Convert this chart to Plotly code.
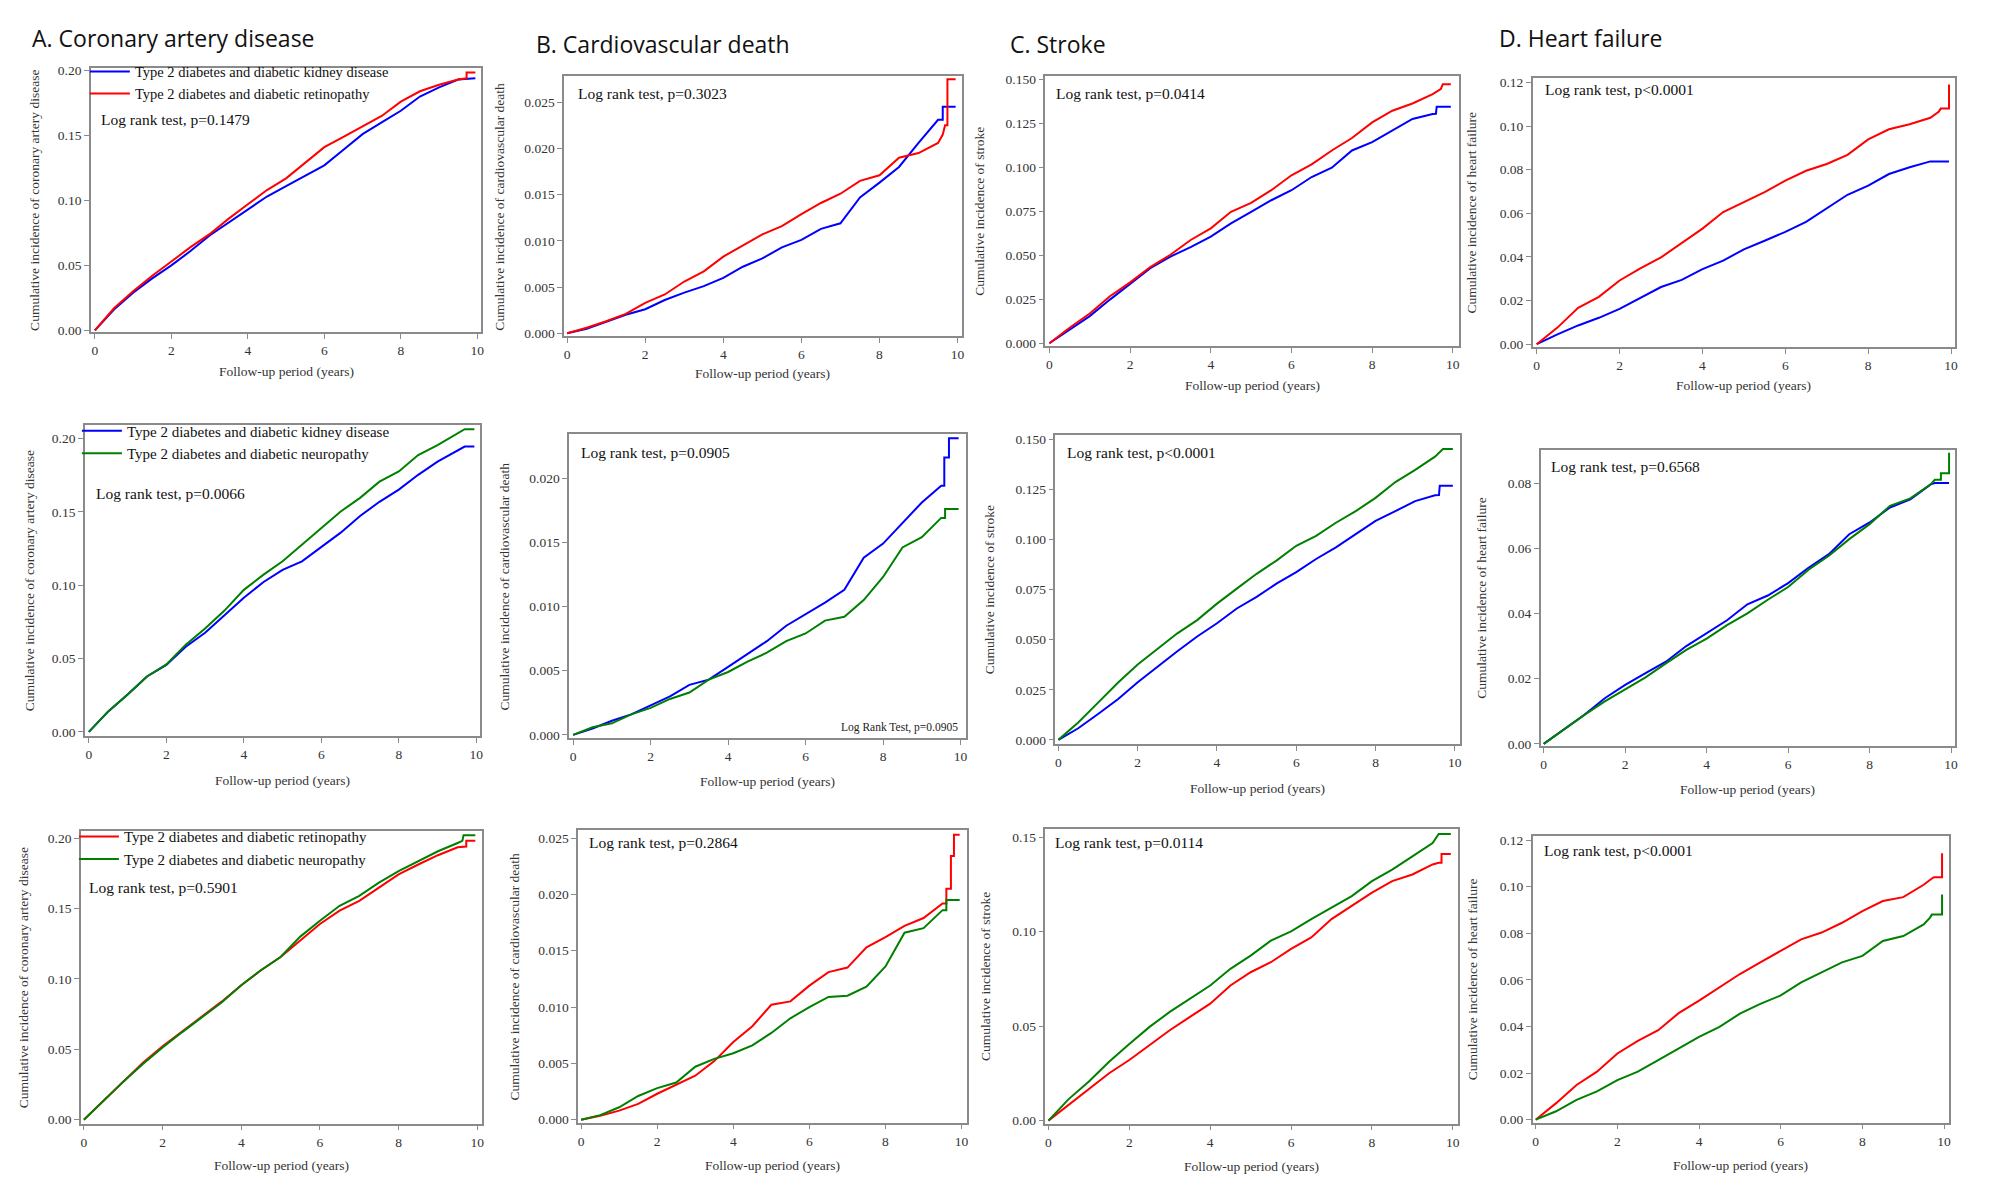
import plotly.graph_objects as go

W, H = 2008, 1197

# ---------------- data ----------------
YEARS = [0, 0.5, 1, 1.5, 2, 2.5, 3, 3.5, 4, 4.5, 5, 5.5, 6, 6.5, 7, 7.5, 8, 8.5, 9, 9.5]

KIDNEY = "Type 2 diabetes and diabetic kidney disease"
RETINO = "Type 2 diabetes and diabetic retinopathy"
NEURO = "Type 2 diabetes and diabetic neuropathy"

PANEL_TITLES = ["A. Coronary artery disease", "B. Cardiovascular death", "C. Stroke", "D. Heart failure"]
Y_TITLES = ["Cumulative incidence of coronary artery disease",
            "Cumulative incidence of cardiovascular death",
            "Cumulative incidence of stroke",
            "Cumulative incidence of heart failure"]
X_TITLE = "Follow-up period (years)"
P_TEXTS = ["Log rank test, p=0.1479", "Log rank test, p=0.3023", "Log rank test, p=0.0414", "Log rank test, p<0.0001",
           "Log rank test, p=0.0066", "Log rank test, p=0.0905", "Log rank test, p<0.0001", "Log rank test, p=0.6568",
           "Log rank test, p=0.5901", "Log rank test, p=0.2864", "Log rank test, p=0.0114", "Log rank test, p<0.0001"]

# Row 1: kidney (blue) vs retinopathy (red)
A1_KID = [0, 0.016, 0.029, 0.040, 0.050, 0.061, 0.073, 0.083, 0.093, 0.103, 0.111, 0.119, 0.127, 0.139, 0.151, 0.160, 0.169, 0.180, 0.187, 0.193]
A1_KID_TX, A1_KID_TY = [9.95], [0.194]
A1_RET = [0, 0.017, 0.030, 0.042, 0.053, 0.064, 0.074, 0.086, 0.097, 0.108, 0.117, 0.129, 0.141, 0.149, 0.157, 0.165, 0.176, 0.184, 0.189, 0.193]
A1_RET_TX, A1_RET_TY = [9.72, 9.72, 9.95], [0.194, 0.1985, 0.1985]

B1_KID = [0, 0.0005, 0.00125, 0.002, 0.0026, 0.0036, 0.0044, 0.0051, 0.006, 0.0072, 0.0081, 0.0093, 0.0101, 0.0113, 0.0119, 0.0147, 0.0163, 0.018, 0.0206, 0.0231]
B1_KID_TX, B1_KID_TY = [9.62, 9.62, 9.95], [0.0231, 0.0245, 0.0245]
B1_RET = [0, 0.0006, 0.0013, 0.0021, 0.0033, 0.0042, 0.0056, 0.0067, 0.0083, 0.0095, 0.0107, 0.0116, 0.0129, 0.0141, 0.0151, 0.0165, 0.0171, 0.019, 0.0195, 0.0206]
B1_RET_TX, B1_RET_TY = [9.62, 9.68, 9.74, 9.74, 9.95], [0.0215, 0.0225, 0.0225, 0.0275, 0.0275]

C1_KID = [0, 0.0079, 0.0154, 0.0248, 0.0339, 0.0427, 0.0493, 0.0546, 0.0606, 0.0681, 0.0747, 0.0813, 0.087, 0.0945, 0.0998, 0.1096, 0.1143, 0.1209, 0.1275, 0.1303]
C1_KID_TX, C1_KID_TY = [9.58, 9.6, 9.95], [0.1305, 0.1344, 0.1344]
C1_RET = [0, 0.0088, 0.0169, 0.0267, 0.0346, 0.0433, 0.0503, 0.0587, 0.0653, 0.0747, 0.0798, 0.087, 0.0955, 0.1017, 0.1096, 0.1167, 0.1256, 0.1322, 0.1363, 0.1416]
C1_RET_TX, C1_RET_TY = [9.7, 9.75, 9.95], [0.1445, 0.1472, 0.1472]

D1_KID = [0, 0.0045, 0.0086, 0.0121, 0.0162, 0.0212, 0.0262, 0.0295, 0.0344, 0.0383, 0.0435, 0.0474, 0.0515, 0.0561, 0.0621, 0.0685, 0.0727, 0.078, 0.0811, 0.0838]
D1_KID_TX, D1_KID_TY = [9.95], [0.0838]
D1_RET = [0, 0.0076, 0.0167, 0.0217, 0.0292, 0.0348, 0.0398, 0.0462, 0.053, 0.0606, 0.0652, 0.0697, 0.075, 0.0795, 0.0826, 0.0868, 0.0939, 0.0985, 0.1008, 0.1038]
D1_RET_TX, D1_RET_TY = [9.7, 9.75, 9.95, 9.95], [0.1065, 0.108, 0.108, 0.119]

# Row 2: kidney (blue) vs neuropathy (green)
A2_KID = [0, 0.014, 0.0255, 0.0378, 0.0457, 0.058, 0.0676, 0.0795, 0.0914, 0.102, 0.1104, 0.1162, 0.1257, 0.1358, 0.1471, 0.1568, 0.1651, 0.1752, 0.1842, 0.1917]
A2_KID_TX, A2_KID_TY = [9.7, 9.95], [0.1944, 0.1944]
A2_NEU = [0, 0.014, 0.0255, 0.0378, 0.046, 0.0595, 0.0705, 0.0827, 0.0968, 0.107, 0.1163, 0.1275, 0.1392, 0.1502, 0.1595, 0.1705, 0.1775, 0.1887, 0.1955, 0.2035]
A2_NEU_TX, A2_NEU_TY = [9.7, 9.95], [0.2063, 0.2063]

B2_KID = [0, 0.0005, 0.0011, 0.0016, 0.0023, 0.003, 0.0039, 0.0043, 0.0053, 0.0063, 0.0073, 0.0085, 0.0094, 0.0103, 0.0113, 0.0138, 0.0149, 0.0165, 0.0181, 0.0194]
B2_KID_TX, B2_KID_TY = [9.58, 9.58, 9.7, 9.7, 9.95], [0.0194, 0.0216, 0.0216, 0.0231, 0.0231]
B2_NEU = [0, 0.0006, 0.0009, 0.0016, 0.0021, 0.0028, 0.0033, 0.0043, 0.0049, 0.0057, 0.0064, 0.0073, 0.0079, 0.0089, 0.0092, 0.0105, 0.0123, 0.0146, 0.0154, 0.0169]
B2_NEU_TX, B2_NEU_TY = [9.6, 9.6, 9.95], [0.0169, 0.0176, 0.0176]

C2_KID = [0, 0.0058, 0.0129, 0.0203, 0.0288, 0.0367, 0.0442, 0.0516, 0.0582, 0.0656, 0.0714, 0.078, 0.0837, 0.0903, 0.0961, 0.1027, 0.1093, 0.1142, 0.1192, 0.1221]
C2_KID_TX, C2_KID_TY = [9.6, 9.62, 9.95], [0.1222, 0.1269, 0.1269]
C2_NEU = [0, 0.0087, 0.0186, 0.0285, 0.0376, 0.0453, 0.0532, 0.0598, 0.068, 0.0755, 0.0829, 0.0895, 0.0969, 0.1018, 0.1084, 0.1142, 0.1208, 0.1287, 0.1348, 0.1414]
C2_NEU_TX, C2_NEU_TY = [9.7, 9.95], [0.1452, 0.1452]

D2_KID = [0, 0.0044, 0.0089, 0.014, 0.0181, 0.0217, 0.0252, 0.03, 0.0339, 0.0379, 0.0428, 0.0455, 0.0493, 0.054, 0.0582, 0.0643, 0.0679, 0.0725, 0.075, 0.0796]
D2_KID_TX, D2_KID_TY = [9.6, 9.95], [0.08, 0.08]
D2_NEU = [0, 0.0044, 0.0089, 0.013, 0.0168, 0.0204, 0.0247, 0.0288, 0.0323, 0.0364, 0.04, 0.0442, 0.0481, 0.0534, 0.0577, 0.0628, 0.0674, 0.073, 0.0753, 0.0796]
D2_NEU_TX, D2_NEU_TY = [9.6, 9.75, 9.75, 9.95, 9.95], [0.081, 0.081, 0.083, 0.083, 0.0893]

# Row 3: retinopathy (red) vs neuropathy (green)
A3_RET = [0, 0.0134, 0.0275, 0.0404, 0.0521, 0.0627, 0.0732, 0.0838, 0.0955, 0.1061, 0.1155, 0.1272, 0.139, 0.1484, 0.1554, 0.1648, 0.1742, 0.1812, 0.1878, 0.1934]
A3_RET_TX, A3_RET_TY = [9.72, 9.72, 9.95], [0.194, 0.1981, 0.1981]
A3_NEU = [0, 0.0134, 0.027, 0.0395, 0.0512, 0.0622, 0.0727, 0.0832, 0.0955, 0.1061, 0.1155, 0.13, 0.1413, 0.1519, 0.1589, 0.1683, 0.1765, 0.1836, 0.1906, 0.1965]
A3_NEU_TX, A3_NEU_TY = [9.62, 9.65, 9.95], [0.198, 0.2019, 0.2019]

B3_RET = [0, 0.00035, 0.0008, 0.0014, 0.0023, 0.0031, 0.0039, 0.0052, 0.0069, 0.0083, 0.0102, 0.0105, 0.0119, 0.0131, 0.0135, 0.0153, 0.0162, 0.0172, 0.0179, 0.0192]
B3_RET_TX, B3_RET_TY = [9.6, 9.6, 9.72, 9.72, 9.8, 9.8, 9.95], [0.0192, 0.0205, 0.0205, 0.0234, 0.0234, 0.0253, 0.0253]
B3_NEU = [0, 0.0004, 0.0011, 0.0021, 0.0028, 0.0033, 0.0047, 0.0054, 0.0059, 0.0066, 0.0077, 0.009, 0.01, 0.0109, 0.011, 0.0118, 0.0136, 0.0166, 0.017, 0.0186]
B3_NEU_TX, B3_NEU_TY = [9.6, 9.6, 9.95], [0.0186, 0.0195, 0.0195]

C3_RET = [0, 0.0084, 0.0163, 0.0251, 0.0321, 0.04, 0.0478, 0.0549, 0.0619, 0.0715, 0.0785, 0.0838, 0.0908, 0.0969, 0.1066, 0.1136, 0.1206, 0.1267, 0.1302, 0.1355]
C3_RET_TX, C3_RET_TY = [9.65, 9.72, 9.72, 9.95], [0.1364, 0.1364, 0.141, 0.141]
C3_NEU = [0, 0.0114, 0.0207, 0.0312, 0.0405, 0.0496, 0.0575, 0.0645, 0.0715, 0.0803, 0.0873, 0.0952, 0.1001, 0.1066, 0.1127, 0.1188, 0.1267, 0.1328, 0.1398, 0.1468]
C3_NEU_TX, C3_NEU_TY = [9.65, 9.95], [0.1516, 0.1516]

D3_RET = [0, 0.0071, 0.0149, 0.0206, 0.0284, 0.0338, 0.0384, 0.0457, 0.0511, 0.0568, 0.0625, 0.0675, 0.0724, 0.0774, 0.0803, 0.0845, 0.0895, 0.0938, 0.0955, 0.1008]
D3_RET_TX, D3_RET_TY = [9.7, 9.75, 9.95, 9.95], [0.1035, 0.104, 0.104, 0.1143]
D3_NEU = [0, 0.0036, 0.0085, 0.0121, 0.017, 0.0206, 0.0256, 0.0305, 0.0355, 0.0398, 0.0455, 0.0497, 0.0533, 0.0589, 0.0632, 0.0675, 0.0703, 0.0767, 0.0788, 0.0838]
D3_NEU_TX, D3_NEU_TY = [9.65, 9.7, 9.95, 9.95], [0.0866, 0.088, 0.088, 0.0966]

# ---------------- styling / layout (pixel geometry of each panel) ----------------
BLUE, RED, GREEN = "#0000ff", "#ff0000", "#008000"
FRAME = "#8a8a8a"
SERIF = "Liberation Serif, Times New Roman, serif"
SANS = "Open Sans, Noto Sans, sans-serif"

# box = (left, top, right, bottom) px ; xt = px of x=0 and x=10 ; yt = px of y=0 and y=ytop
PANELS = [
    dict(box=(83, 56, 474, 323), xt=(87, 470), yt=(321, 59), ytop=0.20, dtick=0.05, fmt=".2f", col=0, ytx=27, xty=363, p=(91, 108)),
    dict(box=(557, 65, 955, 327), xt=(560, 951), yt=(324, 91), ytop=0.025, dtick=0.005, fmt=".3f", col=1, ytx=492, xty=365, p=(569, 82)),
    dict(box=(1039, 65, 1453, 337), xt=(1043, 1447), yt=(334, 68), ytop=0.15, dtick=0.025, fmt=".3f", col=2, ytx=973, xty=377, p=(1048, 82)),
    dict(box=(1527, 67, 1950, 338), xt=(1531, 1946), yt=(335, 71), ytop=0.12, dtick=0.02, fmt=".2f", col=3, ytx=1466, xty=377, p=(1537, 78)),
    dict(box=(77, 416, 473, 730), xt=(81, 469), yt=(726, 430), ytop=0.20, dtick=0.05, fmt=".2f", col=0, ytx=21, xty=775, p=(86, 486)),
    dict(box=(562, 426, 959, 732), xt=(566, 954), yt=(729, 470), ytop=0.020, dtick=0.005, fmt=".3f", col=1, ytx=497, xty=776, p=(572, 444)),
    dict(box=(1049, 427, 1454, 738), xt=(1052, 1449), yt=(734, 431), ytop=0.15, dtick=0.025, fmt=".3f", col=2, ytx=983, xty=783, p=(1059, 444)),
    dict(box=(1535, 442, 1950, 740), xt=(1538, 1946), yt=(738, 475), ytop=0.08, dtick=0.02, fmt=".2f", col=3, ytx=1475, xty=784, p=(1543, 458)),
    dict(box=(73, 826, 475, 1121), xt=(76, 470), yt=(1117, 833), ytop=0.20, dtick=0.05, fmt=".2f", col=0, ytx=15, xty=1163, p=(79, 883)),
    dict(box=(571, 825, 960, 1120), xt=(574, 955), yt=(1117, 833), ytop=0.025, dtick=0.005, fmt=".3f", col=1, ytx=507, xty=1163, p=(580, 838)),
    dict(box=(1039, 824, 1452, 1121), xt=(1042, 1447), yt=(1118, 832), ytop=0.15, dtick=0.05, fmt=".2f", col=2, ytx=979, xty=1164, p=(1047, 838)),
    dict(box=(1527, 831, 1944, 1120), xt=(1530, 1939), yt=(1117, 835), ytop=0.12, dtick=0.02, fmt=".2f", col=3, ytx=1467, xty=1163, p=(1536, 846)),
]

# series: (panel index, label, color, values, tail x, tail y, legend id or None)
SERIES = [
    (0, KIDNEY, BLUE, A1_KID, A1_KID_TX, A1_KID_TY, "legend"),
    (0, RETINO, RED, A1_RET, A1_RET_TX, A1_RET_TY, "legend"),
    (1, KIDNEY, BLUE, B1_KID, B1_KID_TX, B1_KID_TY, None),
    (1, RETINO, RED, B1_RET, B1_RET_TX, B1_RET_TY, None),
    (2, KIDNEY, BLUE, C1_KID, C1_KID_TX, C1_KID_TY, None),
    (2, RETINO, RED, C1_RET, C1_RET_TX, C1_RET_TY, None),
    (3, KIDNEY, BLUE, D1_KID, D1_KID_TX, D1_KID_TY, None),
    (3, RETINO, RED, D1_RET, D1_RET_TX, D1_RET_TY, None),
    (4, KIDNEY, BLUE, A2_KID, A2_KID_TX, A2_KID_TY, "legend2"),
    (4, NEURO, GREEN, A2_NEU, A2_NEU_TX, A2_NEU_TY, "legend2"),
    (5, KIDNEY, BLUE, B2_KID, B2_KID_TX, B2_KID_TY, None),
    (5, NEURO, GREEN, B2_NEU, B2_NEU_TX, B2_NEU_TY, None),
    (6, KIDNEY, BLUE, C2_KID, C2_KID_TX, C2_KID_TY, None),
    (6, NEURO, GREEN, C2_NEU, C2_NEU_TX, C2_NEU_TY, None),
    (7, KIDNEY, BLUE, D2_KID, D2_KID_TX, D2_KID_TY, None),
    (7, NEURO, GREEN, D2_NEU, D2_NEU_TX, D2_NEU_TY, None),
    (8, RETINO, RED, A3_RET, A3_RET_TX, A3_RET_TY, "legend3"),
    (8, NEURO, GREEN, A3_NEU, A3_NEU_TX, A3_NEU_TY, "legend3"),
    (9, RETINO, RED, B3_RET, B3_RET_TX, B3_RET_TY, None),
    (9, NEURO, GREEN, B3_NEU, B3_NEU_TX, B3_NEU_TY, None),
    (10, RETINO, RED, C3_RET, C3_RET_TX, C3_RET_TY, None),
    (10, NEURO, GREEN, C3_NEU, C3_NEU_TX, C3_NEU_TY, None),
    (11, RETINO, RED, D3_RET, D3_RET_TX, D3_RET_TY, None),
    (11, NEURO, GREEN, D3_NEU, D3_NEU_TX, D3_NEU_TY, None),
]


def rng(lo_px, hi_px, p0, p1, v0, v1):
    s = (v1 - v0) / (p1 - p0)
    return [v0 + (lo_px - p0) * s, v0 + (hi_px - p0) * s]


fig = go.Figure()

for pi, label, color, vals, tx, ty, leg in SERIES:
    n = pi + 1
    kw = dict(showlegend=leg is not None)
    if leg:
        kw["legend"] = leg
    fig.add_trace(go.Scatter(
        x=YEARS + tx, y=vals + ty, mode="lines", name=label,
        line=dict(color=color, width=2), xaxis=f"x{n}", yaxis=f"y{n}",
        hoverinfo="skip", **kw))

layout = dict(width=W, height=H, margin=dict(l=0, r=0, t=0, b=0),
              paper_bgcolor="white", plot_bgcolor="white", autosize=False)

annotations = []
axis_font = dict(family=SERIF, size=13.5, color="#333333")
for i, P in enumerate(PANELS):
    n = i + 1
    l, t, r, b = P["box"]
    xr = rng(l, r, P["xt"][0], P["xt"][1], 0, 10)
    yr = rng(b, t, P["yt"][0], P["yt"][1], 0, P["ytop"])
    common = dict(showline=True, mirror=True, linecolor=FRAME, linewidth=1.5,
                  ticks="outside", ticklen=5, tickwidth=1, tickcolor=FRAME,
                  showgrid=False, zeroline=False, tickfont=axis_font, fixedrange=True)
    layout[f"xaxis{n}"] = dict(domain=[l / W, r / W], range=xr, anchor=f"y{n}",
                               tick0=0, dtick=2, **common)
    layout[f"yaxis{n}"] = dict(domain=[1 - b / H, 1 - t / H], range=yr, anchor=f"x{n}",
                               tick0=0, dtick=P["dtick"], tickformat=P["fmt"], **common)
    # y axis title
    annotations.append(dict(text=Y_TITLES[P["col"]], xref="paper", yref="paper",
                            x=P["ytx"] / W, y=1 - ((t + b) / 2) / H, textangle=-90,
                            showarrow=False, xanchor="center", yanchor="middle",
                            font=dict(family=SERIF, size=13.5, color="#333333")))
    # x axis title
    annotations.append(dict(text=X_TITLE, xref="paper", yref="paper",
                            x=((l + r) / 2) / W, y=1 - P["xty"] / H,
                            showarrow=False, xanchor="center", yanchor="middle",
                            font=dict(family=SERIF, size=13.5, color="#333333")))
    # log rank text
    annotations.append(dict(text=P_TEXTS[i], xref="paper", yref="paper",
                            x=P["p"][0] / W, y=1 - P["p"][1] / H,
                            showarrow=False, xanchor="left", yanchor="middle",
                            font=dict(family=SERIF, size=15.5, color="#111111")))

# extra small annotation in panel B2
annotations.append(dict(text="Log Rank Test, p=0.0905", xref="paper", yref="paper",
                        x=953 / W, y=1 - 722 / H, showarrow=False,
                        xanchor="right", yanchor="middle",
                        font=dict(family=SERIF, size=11.5, color="#222222")))

# column titles
TITLE_POS = [(22, 26), (527, 32), (1001, 32), (1491, 26)]
for txt, (tx_, ty_) in zip(PANEL_TITLES, TITLE_POS):
    annotations.append(dict(text=txt, xref="paper", yref="paper",
                            x=tx_ / W, y=1 - ty_ / H, showarrow=False,
                            xanchor="left", yanchor="middle",
                            font=dict(family=SANS, size=23, color="#111111")))

layout["annotations"] = annotations

leg_common = dict(bgcolor="rgba(0,0,0,0)", borderwidth=0, xanchor="left", yanchor="top",
                  itemwidth=40, traceorder="normal", tracegroupgap=0)
layout["legend"] = dict(x=77 / W, y=1 - 44 / H,
                        font=dict(family=SERIF, size=14.5, color="#111111"), **leg_common)
layout["legend2"] = dict(x=69 / W, y=1 - 406 / H,
                         font=dict(family=SERIF, size=15, color="#111111"), **leg_common)
layout["legend3"] = dict(x=66 / W, y=1 - 815 / H,
                         font=dict(family=SERIF, size=15, color="#111111"), **leg_common)

fig.update_layout(**layout)
fig.write_html("out.html")
